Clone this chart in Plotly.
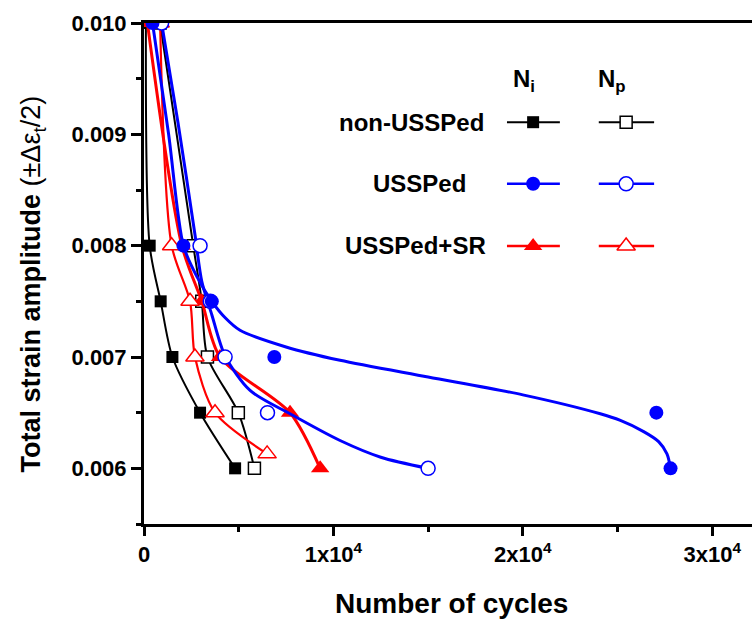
import plotly.graph_objects as go

# ---------------- data ----------------
strain_levels = [0.010, 0.008, 0.0075, 0.007, 0.0065, 0.006]

non_ni = [100, 300, 880, 1500, 2960, 4810]
non_np = [850, 2600, 3050, 3350, 4980, 5830]

uss_ni = [450, 2080, 3580, 6880, 27050, 27800]
uss_np = [930, 2960, 3500, 4280, 6520, 15000]

sr_ni = [180, 2000, 3050, 4010, 7710, 9300]
sr_np = [850, 1460, 2430, 2690, 3750, 6500]
sr_np_strain = [0.010, 0.008, 0.0075, 0.007, 0.0065, 0.00613]

# fitted curves drawn for USSPed
uss_ni_fit_n = [450, 1300, 2080, 2800, 3580, 4300, 5070, 7500, 10350, 15000, 20000,
                24090, 25150, 26380, 27170, 27610, 27800]
uss_ni_fit_s = [0.0100, 0.0090, 0.0080, 0.00772, 0.0075, 0.00735, 0.00724, 0.00709, 0.00697,
                0.00682, 0.00666, 0.00649, 0.00643, 0.00633, 0.00624, 0.00613, 0.0060]
uss_np_fit_n = [930, 1800, 2690, 3050, 3580, 4280, 5600, 7710, 10350, 12500, 15000]
uss_np_fit_s = [0.0100, 0.0091, 0.0081, 0.00768, 0.00738, 0.00701, 0.00670, 0.00649,
                0.00625, 0.00610, 0.0060]

x_tickvals = [0, 10000, 20000, 30000]
x_ticktext = ["0", "1x10<sup>4</sup>", "2x10<sup>4</sup>", "3x10<sup>4</sup>"]
y_tickvals = [0.006, 0.007, 0.008, 0.009, 0.010]
y_ticktext = ["0.006", "0.007", "0.008", "0.009", "0.010"]

legend_rows = ["non-USSPed", "USSPed", "USSPed+SR"]

# ---------------- styling ----------------
FONT = "Liberation Sans, Arial, sans-serif"
BLACK, BLUE, RED = "#000000", "#0000FF", "#FF0000"
SMOOTH = 0.8

fig = go.Figure()

def series(x, y, color, symbol, size, filled, lw, line=True):
    marker = dict(symbol=symbol, size=size,
                  color=color if filled else "white",
                  line=dict(color=color, width=0 if filled else 1.5))
    fig.add_trace(go.Scatter(
        x=x, y=y, mode="lines+markers" if line else "markers",
        line=dict(color=color, width=lw, shape="spline", smoothing=SMOOTH),
        marker=marker, showlegend=False))

series(non_np, strain_levels, BLACK, "square", 12, False, 2)
series(non_ni, strain_levels, BLACK, "square", 12, True, 2)
series(sr_ni, strain_levels, RED, "triangle-up", 16, True, 3)
series(sr_np, sr_np_strain, RED, "triangle-up", 16, False, 2.2)

fig.add_trace(go.Scatter(x=uss_np_fit_n, y=uss_np_fit_s, mode="lines",
                         line=dict(color=BLUE, width=3, shape="spline", smoothing=SMOOTH),
                         showlegend=False))
series(uss_np, strain_levels, BLUE, "circle", 14, False, 0, line=False)
fig.add_trace(go.Scatter(x=uss_ni_fit_n, y=uss_ni_fit_s, mode="lines",
                         line=dict(color=BLUE, width=3, shape="spline", smoothing=SMOOTH),
                         showlegend=False))
series(uss_ni, strain_levels, BLUE, "circle", 14, True, 0, line=False)

# ---------------- custom legend on an overlay axis (0..1 of plot area) ----------------
row_y = [0.802, 0.679, 0.555]
ni_line = [0.597, 0.684]
ni_mark = 0.640
np_line = [0.748, 0.839]
np_mark = 0.793
key_styles = [
    (BLACK, "square", 12, 2),
    (BLUE, "circle", 14, 2.5),
    (RED, "triangle-up", 16, 2.5),
]
for ry, (col, sym, sz, lw) in zip(row_y, key_styles):
    for seg, mk, filled in [(ni_line, ni_mark, True), (np_line, np_mark, False)]:
        fig.add_trace(go.Scatter(x=seg, y=[ry, ry], mode="lines", xaxis="x2", yaxis="y2",
                                 line=dict(color=col, width=lw), showlegend=False,
                                 cliponaxis=False))
        fig.add_trace(go.Scatter(x=[mk], y=[ry], mode="markers", xaxis="x2", yaxis="y2",
                                 marker=dict(symbol=sym, size=sz,
                                             color=col if filled else "white",
                                             line=dict(color=col, width=0 if filled else 1.5)),
                                 showlegend=False, cliponaxis=False))

annotations = []
label_x = [0.440, 0.453, 0.447]
for name, lx, ry in zip(legend_rows, label_x, row_y):
    annotations.append(dict(text=f"<b>{name}</b>", x=lx, y=ry, xref="paper", yref="paper",
                            xanchor="center", yanchor="middle", showarrow=False,
                            font=dict(family=FONT, size=24, color="black")))
annotations.append(dict(text="<b>N<sub>i</sub></b>", x=0.625, y=0.885, xref="paper", yref="paper",
                        xanchor="center", yanchor="middle", showarrow=False,
                        font=dict(family=FONT, size=24, color="black")))
annotations.append(dict(text="<b>N<sub>p</sub></b>", x=0.770, y=0.885, xref="paper", yref="paper",
                        xanchor="center", yanchor="middle", showarrow=False,
                        font=dict(family=FONT, size=24, color="black")))
# axis titles
annotations.append(dict(text="<b>Number of cycles</b>", x=0.505, y=-0.158, xref="paper",
                        yref="paper", xanchor="center", yanchor="middle", showarrow=False,
                        font=dict(family=FONT, size=28, color="black")))
annotations.append(dict(text="<b>Total strain amplitude </b>(±Δε<sub>t</sub>/2)",
                        x=-0.1826, y=0.48, xref="paper", yref="paper", textangle=-90,
                        xanchor="center", yanchor="middle", showarrow=False,
                        font=dict(family=FONT, size=27, color="black")))

fig.update_layout(
    width=752, height=621,
    margin=dict(l=144, r=0, t=23, b=97),
    plot_bgcolor="white", paper_bgcolor="white",
    showlegend=False,
    annotations=annotations,
    xaxis=dict(range=[0, 32100], tickvals=x_tickvals, ticktext=x_ticktext,
               ticks="outside", ticklen=9, tickwidth=3, tickcolor="black",
               showline=True, linewidth=3, linecolor="black", mirror=True,
               showgrid=False, zeroline=False,
               tickfont=dict(family=FONT, size=22, color="black", weight="bold"),
               minor=dict(ticks="outside", ticklen=5, tickwidth=3, tickcolor="black",
                          dtick=5000, tick0=0, showgrid=False)),
    yaxis=dict(range=[0.0055, 0.010], tickvals=y_tickvals, ticktext=y_ticktext,
               ticks="outside", ticklen=10, tickwidth=3, tickcolor="black",
               showline=True, linewidth=3, linecolor="black", mirror=False,
               showgrid=False, zeroline=False,
               tickfont=dict(family=FONT, size=22, color="black", weight="bold"),
               minor=dict(ticks="outside", ticklen=5, tickwidth=3, tickcolor="black",
                          dtick=0.0005, tick0=0.0055, showgrid=False)),
    xaxis2=dict(overlaying="x", anchor="y2", range=[0, 1], visible=False),
    yaxis2=dict(overlaying="y", anchor="x2", range=[0, 1], visible=False),
)

fig.write_html("out.html")
